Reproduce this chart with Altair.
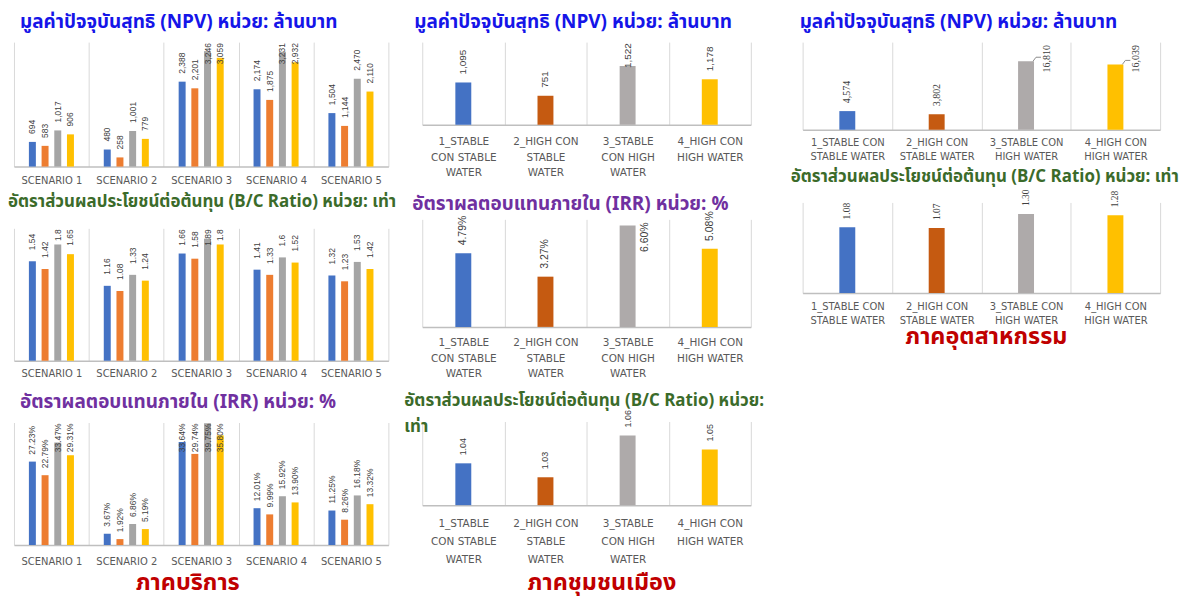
import textwrap
import altair as alt
import pandas as pd

# ---------------- data ----------------
scenarios = ["SCENARIO 1", "SCENARIO 2", "SCENARIO 3", "SCENARIO 4", "SCENARIO 5"]
cases = ["1_STABLE CON STABLE WATER", "2_HIGH CON STABLE WATER",
         "3_STABLE CON HIGH WATER", "4_HIGH CON HIGH WATER"]

# service sector: one row per scenario, one value per case
service_npv = [
    [694, 583, 1017, 906],
    [480, 258, 1001, 779],
    [2388, 2201, 3246, 3059],
    [2174, 1875, 3231, 2932],
    [1504, 1144, 2470, 2110],
]
service_bc = [
    [1.54, 1.42, 1.8, 1.65],
    [1.16, 1.08, 1.33, 1.24],
    [1.66, 1.58, 1.89, 1.8],
    [1.41, 1.33, 1.6, 1.52],
    [1.32, 1.23, 1.53, 1.42],
]
service_irr = [
    [27.23, 22.79, 33.47, 29.31],
    [3.67, 1.92, 6.86, 5.19],
    [33.64, 29.74, 39.75, 35.80],
    [12.01, 9.99, 15.92, 13.90],
    [11.25, 8.26, 16.18, 13.32],
]

urban_npv = [1095, 751, 1522, 1178]
urban_irr = [4.79, 3.27, 6.60, 5.08]
urban_bc = [1.04, 1.03, 1.06, 1.05]

industry_npv = [4574, 3802, 16810, 16039]
industry_bc = [1.08, 1.07, 1.30, 1.28]

title_npv = "มูลค่าปัจจุบันสุทธิ (NPV) หน่วย: ล้านบาท"
title_bc = "อัตราส่วนผลประโยชน์ต่อต้นทุน (B/C Ratio) หน่วย: เท่า"
title_bc_lines = ["อัตราส่วนผลประโยชน์ต่อต้นทุน (B/C Ratio) หน่วย:", "เท่า"]
title_irr = "อัตราผลตอบแทนภายใน (IRR) หน่วย: %"
sector_service = "ภาคบริการ"
sector_urban = "ภาคชุมชนเมือง"
sector_industry = "ภาคอุตสาหกรรม"

# ---------------- style ----------------
colors_service = ["#4472C4", "#ED7D31", "#A5A5A5", "#FFC000"]
colors_sector = ["#4472C4", "#C55A11", "#AEAAAA", "#FFC000"]
NPV_BLUE = "#1515E8"
BC_GREEN = "#3B6B2A"
IRR_PURPLE = "#7030A0"
SECTOR_RED = "#C00000"
THAI = "Noto Sans Thai, Noto Sans Thai Looped, Tahoma, Noto Sans, sans-serif"


def fmt_int(v):
    return f"{v:,.0f}"


def fmt_g(v):
    return f"{v:g}"


def fmt_2(v):
    return f"{v:.2f}"


def fmt_pct(v):
    return f"{v:.2f}%"


def text_w(s, size, serif=False):
    w = 0.0
    for ch in s:
        if ch.isdigit():
            w += 0.5 if serif else 0.556
        elif ch in ",.":
            w += 0.25 if serif else 0.278
        elif ch == "%":
            w += 0.833 if serif else 0.889
        else:
            w += 0.6
    return w * size


def wrap_label(s, width):
    if width is None:
        return s
    return "|".join(textwrap.wrap(s, width))


def panel(cats, values, *, grouped, width, height, domain, colors, fmt,
          title, tcolor, tdx, toffset, tsize=17, wrap=None, mode="none", side_thr=None,
          leader=False, side_dy=17, lab_font="Liberation Sans", lab_size=8.5, gap=8,
          xl_size=10, xl_lh=15, xl_pad=8, footer=None, fx=0, fy=0):
    ymin, ymax = domain
    serif = "Serif" in lab_font
    series = cases
    rows = []
    if grouped:
        for cat, vals in zip(cats, values):
            for s, v in zip(series, vals):
                rows.append(dict(cat=wrap_label(cat, wrap), series=s, value=v))
    else:
        for cat, v in zip(cats, values):
            rows.append(dict(cat=wrap_label(cat, wrap), series=cat, value=v))
    for r in rows:
        lab = fmt(r["value"])
        r["label"] = lab
        r["side"] = False
        r["ly"] = r["value"]
        if mode == "clamp":
            lim = ymax - (gap + text_w(lab, lab_size, serif) + 1) * (ymax - ymin) / height
            r["ly"] = min(r["value"], lim)
        elif mode == "side" and r["value"] > side_thr:
            r["side"] = True
            r["ly"] = ymax
    df = pd.DataFrame(rows)
    cat_order = [wrap_label(c, wrap) for c in cats]

    axis_kw = dict(labelAngle=0, labelFont="DejaVu Sans", labelFontSize=xl_size,
                   labelColor="#595959", labelLineHeight=xl_lh, labelPadding=xl_pad,
                   labelExpr="split(datum.label, '|')", labelOverlap=False, labelLimit=0,
                   ticks=False, domainColor="#bfbfbf", domainWidth=1.5,
                   grid=True, gridColor="#d9d9d9", gridWidth=1, tickBand="extent")
    if footer:
        axis_kw.update(title=footer, titleFont=THAI, titleFontSize=23.5, titleFontWeight="bold",
                       titleColor=SECTOR_RED, titleX=fx, titleY=fy, titleBaseline="middle",
                       titleAlign="center", titleAngle=0)
    else:
        axis_kw["title"] = None

    xenc = alt.X("cat:N", sort=cat_order, scale=alt.Scale(paddingInner=0, paddingOuter=0),
                 axis=alt.Axis(**axis_kw))
    yscale = alt.Scale(domain=[ymin, ymax], nice=False, zero=False)
    extra = {}
    if grouped:
        extra["xOffset"] = alt.XOffset("series:N", sort=series,
                                       scale=alt.Scale(paddingInner=0, paddingOuter=0.95))
    color = alt.Color("series:N", scale=alt.Scale(domain=cats if not grouped else series, range=colors),
                      legend=None)
    bar_kw = {"size": 7} if grouped else {"size": 16}
    bars = alt.Chart(df).mark_bar(**bar_kw).encode(
        x=xenc, y=alt.Y("value:Q", scale=yscale, axis=None), y2=alt.datum(ymin),
        color=color, **extra)
    t_norm = alt.Chart(df).transform_filter("!datum.side").mark_text(
        angle=270, align="left", baseline="middle", dx=gap, font=lab_font,
        fontSize=lab_size, color="#404040").encode(
        x=xenc, y=alt.Y("ly:Q", scale=yscale, axis=None), text="label:N", **extra)
    t_side = alt.Chart(df).transform_filter("datum.side").mark_text(
        angle=270, align="right", baseline="middle", dx=-3, dy=side_dy, font=lab_font,
        fontSize=lab_size, color="#404040").encode(
        x=xenc, y=alt.Y("ly:Q", scale=yscale, axis=None), text="label:N", **extra)
    layers = [bars, t_norm, t_side]
    if leader:
        # small callout hook from the bar top towards the side label
        x_c = alt.X("cat:N", sort=cat_order, bandPosition=0.5,
                    scale=alt.Scale(paddingInner=0, paddingOuter=0), axis=alt.Axis(**axis_kw))
        x2_c = alt.X2("cat:N", bandPosition=0.5)
        yv = alt.Y("value:Q", scale=yscale, axis=None)
        y2v = alt.Y2("value:Q")
        hook1 = alt.Chart(df).transform_filter("datum.side").mark_rule(
            color="#8c8c8c", strokeWidth=1, xOffset=7, x2Offset=10, yOffset=0, y2Offset=-4
        ).encode(x=x_c, x2=x2_c, y=yv, y2=y2v)
        hook2 = alt.Chart(df).transform_filter("datum.side").mark_rule(
            color="#8c8c8c", strokeWidth=1, xOffset=10, x2Offset=15, yOffset=-4, y2Offset=-4
        ).encode(x=x_c, x2=x2_c, y=yv, y2=y2v)
        layers += [hook1, hook2]
    tp = dict(text=title, anchor="start", color=tcolor, font=THAI, fontSize=tsize,
              fontWeight="bold", dx=tdx, offset=toffset, frame="group")
    if isinstance(title, list):
        tp["lineHeight"] = 26
    return alt.layer(*layers).properties(
        width=width, height=height, title=alt.TitleParams(**tp))


# ---------------- service sector (left) ----------------
s_npv = panel(scenarios, service_npv, grouped=True, width=376, height=125, domain=[0, 3500],
              colors=colors_service, fmt=fmt_int, title=title_npv, tcolor=NPV_BLUE,
              tdx=6, toffset=10, tsize=19, mode="clamp", gap=8, xl_pad=9)
s_bc = panel(scenarios, service_bc, grouped=True, width=376, height=133, domain=[0, 2.05],
             colors=colors_service, fmt=fmt_g, title=title_bc, tcolor=BC_GREEN,
             tdx=-6, toffset=17, tsize=17, mode="clamp", gap=11, xl_pad=8)
s_irr = panel(scenarios, service_irr, grouped=True, width=376, height=123, domain=[0, 40],
              colors=colors_service, fmt=fmt_pct, title=title_irr, tcolor=IRR_PURPLE,
              tdx=6, toffset=11, tsize=19, mode="clamp", gap=7, xl_pad=12,
              footer=sector_service, fx=174, fy=38)

# ---------------- urban sector (middle) ----------------
u_npv = panel(cases, urban_npv, grouped=False, width=330, height=83, domain=[0, 2140],
              colors=colors_sector, fmt=fmt_int, title=title_npv, tcolor=NPV_BLUE,
              tdx=-8, toffset=10, tsize=19, wrap=10, mode="clamp", lab_size=10, gap=8,
              xl_size=10.5, xl_lh=15.5, xl_pad=12)
u_irr = panel(cases, urban_irr, grouped=False, width=330, height=108, domain=[0, 7],
              colors=colors_sector, fmt=fmt_pct, title=title_irr, tcolor=IRR_PURPLE,
              tdx=-10, toffset=-3, tsize=19, wrap=10, mode="side", side_thr=6,
              lab_size=10.5, gap=8, xl_size=10.5, xl_lh=15.5, xl_pad=11)
u_bc = panel(cases, urban_bc, grouped=False, width=330, height=84, domain=[1.01, 1.07],
             colors=colors_sector, fmt=fmt_2, title=title_bc_lines, tcolor=BC_GREEN,
             tdx=-18, toffset=-26, tsize=17, wrap=10, lab_size=9, gap=8,
             xl_size=10.5, xl_lh=18.5, xl_pad=13,
             footer=sector_urban, fx=180, fy=78)

# ---------------- industry sector (right) ----------------
i_npv = panel(cases, industry_npv, grouped=False, width=359, height=88, domain=[0, 21500],
              colors=colors_sector, fmt=fmt_int, title=title_npv, tcolor=NPV_BLUE,
              tdx=-3, toffset=10, tsize=19, wrap=12, mode="side", side_thr=10000, leader=True,
              side_dy=21, lab_font="Liberation Serif", lab_size=10, gap=8,
              xl_size=10, xl_lh=14, xl_pad=8)
i_bc = panel(cases, industry_bc, grouped=False, width=359, height=91, domain=[0, 1.49],
             colors=colors_sector, fmt=fmt_2, title=title_bc, tcolor=BC_GREEN,
             tdx=-12, toffset=3, tsize=17, wrap=12, lab_font="Liberation Serif", lab_size=9.5,
             gap=8, xl_size=10, xl_lh=14, xl_pad=9,
             footer=sector_industry, fx=184, fy=44)

left = alt.vconcat(s_npv, s_bc, s_irr, spacing=62, bounds="flush").resolve_scale(color="independent")
mid = alt.vconcat(u_npv, u_irr, u_bc, spacing=95, bounds="flush").resolve_scale(color="independent")
right = alt.vconcat(i_npv, i_bc, spacing=73, bounds="flush").resolve_scale(color="independent")
left_mid = alt.hconcat(left, mid, spacing=7).resolve_scale(color="independent")

chart = alt.hconcat(left_mid, right, spacing=26).resolve_scale(
    color="independent"
).properties(
    padding={"left": 0, "top": 4, "right": 4, "bottom": 6},
    background="white",
).configure_view(stroke=None)

chart.save("out.html", embed_options={"renderer": "svg", "actions": False})
